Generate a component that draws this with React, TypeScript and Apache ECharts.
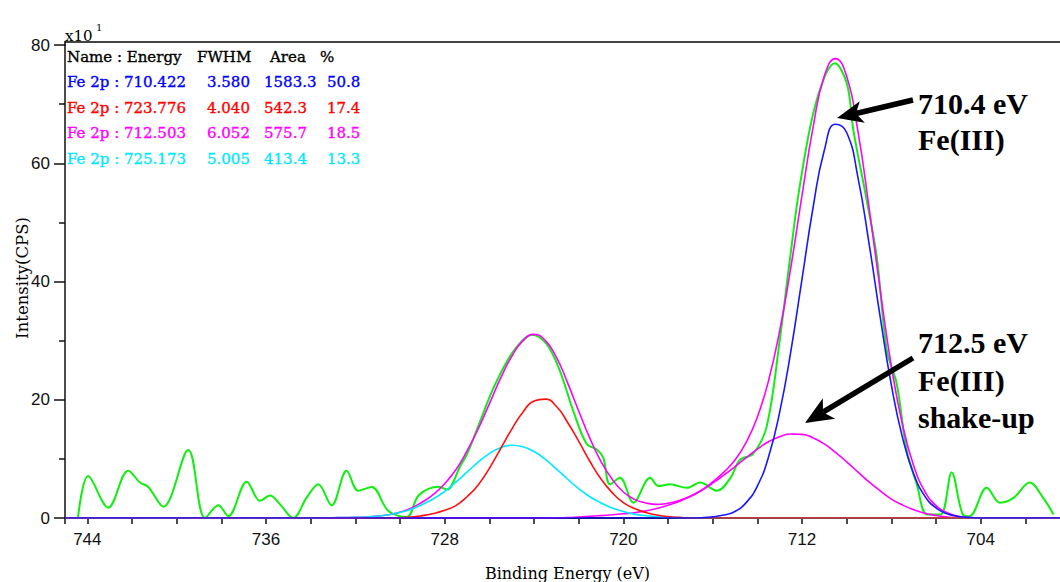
import React, { useEffect, useRef } from "react";
import * as echarts from "echarts";

// ---- fitted-curve sampling grid (binding energy, eV) ----
const fitEnergy = [
  734, 733.5, 733, 732.5, 732, 731.5, 731, 730.5, 730, 729.5, 729, 728.5, 728, 727.5, 727, 726.5,
  726, 725.5, 725, 724.5, 724, 723.5, 723, 722.5, 722, 721.5, 721, 720.5, 720, 719.5, 719, 718.5,
  718, 717.5, 717, 716.5, 716, 715.5, 715, 714.5, 714, 713.5, 713, 712.5, 712, 711.5, 711, 710.5,
  710, 709.5, 709, 708.5, 708, 707.5, 707, 706.5, 706, 705.5, 705, 704.5, 704, 703.5, 703, 702.5, 702,
];

// Fe 2p 723.776 (red)
const redPeak = [
  0, 0, 0, 0, 0, 0, 0, 0, 0.05, 0.15, 0.4, 0.75, 1.3, 2.1, 3.6, 5.6,
  8.4, 11.7, 15.0, 17.9, 19.8, 20.1, 18.9, 16.2, 13.0, 9.6, 6.6, 4.3, 2.6, 1.6, 0.95, 0.5,
  0.25, 0.1, 0, 0, 0, 0, 0, 0, 0, 0, 0, 0, 0, 0, 0, 0,
  0, 0, 0, 0, 0, 0, 0, 0, 0, 0, 0, 0, 0, 0, 0, 0, 0,
];

// Fe 2p 725.173 (cyan)
const cyanPeak = [
  0, 0.03, 0.05, 0.07, 0.1, 0.18, 0.33, 0.55, 0.95, 1.5, 2.3, 3.25, 4.5, 6.05, 7.75, 9.45,
  10.9, 11.9, 12.3, 12.05, 11.25, 9.95, 8.3, 6.6, 4.95, 3.6, 2.55, 1.7, 1.1, 0.65, 0.4, 0.22,
  0.12, 0.06, 0.03, 0, 0, 0, 0, 0, 0, 0, 0, 0, 0, 0, 0, 0,
  0, 0, 0, 0, 0, 0, 0, 0, 0, 0, 0, 0, 0, 0, 0, 0, 0,
];

// Fe 2p 712.503 shake-up (magenta)
const shakeUpPeak = [
  0, 0, 0, 0, 0, 0, 0, 0, 0, 0, 0, 0, 0, 0, 0, 0,
  0, 0, 0, 0, 0, 0, 0.03, 0.08, 0.17, 0.27, 0.4, 0.55, 0.72, 0.9, 1.2, 1.6,
  2.15, 2.8, 3.65, 4.65, 5.9, 7.25, 8.7, 10.2, 11.65, 12.9, 13.75, 14.2, 14.15, 13.55, 12.55, 11.1,
  9.5, 7.8, 6.1, 4.6, 3.2, 2.2, 1.4, 0.8, 0.42, 0.18, 0.05, 0, 0, 0, 0, 0, 0,
];

// Fe 2p 710.422 (blue)
const bluePeak = [
  0, 0, 0, 0, 0, 0, 0, 0, 0, 0, 0, 0, 0, 0, 0, 0,
  0, 0, 0, 0, 0, 0, 0, 0, 0, 0, 0, 0, 0, 0, 0, 0,
  0, 0, 0, 0.05, 0.2, 0.5, 1.1, 2.6, 5.4, 10.3, 17.9, 28.2, 40.4, 52.6, 62.2, 66.6,
  65.2, 57.7, 46.5, 34.0, 22.5, 13.6, 7.45, 3.7, 1.7, 0.7, 0.25, 0.08, 0, 0, 0, 0, 0,
];

// fit envelope (magenta)
const envelope = [
  0, 0.03, 0.05, 0.07, 0.1, 0.18, 0.33, 0.55, 1.0, 1.65, 2.7, 4.0, 5.8, 8.15, 11.35, 15.05,
  19.3, 23.6, 27.3, 29.95, 31.05, 30.05, 27.2, 22.9, 18.1, 13.5, 9.55, 6.55, 4.4, 3.15, 2.55, 2.3,
  2.5, 2.95, 3.7, 4.7, 6.1, 7.75, 9.8, 12.8, 17.05, 23.2, 31.65, 42.4, 54.55, 66.15, 74.75, 77.7,
  74.7, 65.5, 52.6, 38.6, 25.7, 15.8, 8.85, 4.5, 2.1, 0.9, 0.3, 0.08, 0, 0, 0, 0, 0,
];

// measured spectrum (green)
const rawEnergy = [
  744.42, 743.96, 743.06, 742.17, 741.64, 741.27, 740.6, 739.48, 738.73, 738.13, 737.69, 736.86,
  736.27, 735.82, 735.37, 734.78, 734.18, 733.66, 733.06, 732.39, 731.87, 731.27, 730.52, 729.7,
  729.15, 728.25, 727.9, 727.3, 727.0, 726.5, 725.8, 724.9, 724.06, 723.43, 722.84, 722.24,
  721.64, 721.19, 720.9, 720.6, 720.15, 719.55, 718.8, 718.43, 717.9, 717.16, 716.56, 715.8,
  715.2, 714.77, 714.2, 713.58, 713.0, 712.53, 712.08, 711.34, 710.52, 709.99, 709.7, 709.1,
  708.65, 708.2, 707.76, 707.31, 706.86, 706.4, 705.8, 705.3, 704.8, 704.5, 703.73, 703.13,
  702.53, 701.8, 701.2, 700.74,
];
const rawCounts = [
  0, 7.1, 1.75, 8.0, 6.0, 5.25, 1.9, 11.5, 0, 2.15, 0.3, 6.15,
  2.9, 3.8, 2.3, 0, 3.45, 5.7, 2.15, 8.0, 4.6, 5.25, 1.2, 0.15,
  3.9, 5.3, 4.8, 8.8, 10.8, 15.5, 22.1, 28.3, 31.0, 29.4, 24.9, 18.1,
  12.5, 11.6, 10.2, 5.7, 6.8, 2.6, 6.8, 5.4, 5.7, 5.1, 6.0, 4.6,
  6.8, 9.9, 10.8, 15.5, 30.0, 44.1, 56.6, 70.7, 76.9, 73.5, 65.6, 53.7,
  44.1, 28.3, 22.7, 11.4, 5.7, 0.6, 0.6, 7.7, 0.6, 0.3, 5.1, 2.6,
  3.4, 6.0, 3.4, 0.6,
];

// fit table
const peakNames = ["Fe 2p", "Fe 2p", "Fe 2p", "Fe 2p"];
const peakEnergies = ["710.422", "723.776", "712.503", "725.173"];
const peakFwhm = ["3.580", "4.040", "6.052", "5.005"];
const peakArea = ["1583.3", "542.3", "575.7", "413.4"];
const peakPercent = ["50.8", "17.4", "18.5", "13.3"];
const peakColors = ["#0000ff", "#ff0000", "#ff00ff", "#00e8ff"];

const xTickLabels = [744, 736, 728, 720, 712, 704];
const yTickLabels = [0, 20, 40, 60, 80];

function withBaseline(values: number[]): [number, number][] {
  const pts: [number, number][] = [[745, 0]];
  fitEnergy.forEach((e, i) => pts.push([e, values[i]]));
  pts.push([700, 0]);
  return pts;
}

function arrow(tail: [number, number], tip: [number, number], headLen: number, half: number) {
  const dx = tip[0] - tail[0];
  const dy = tip[1] - tail[1];
  const L = Math.hypot(dx, dy);
  const ux = dx / L, uy = dy / L;
  const nx = -uy, ny = ux;
  const bx = tip[0] - ux * headLen, by = tip[1] - uy * headLen;
  const kx = tip[0] - ux * headLen * 0.75, ky = tip[1] - uy * headLen * 0.75;
  return [
    { type: "line", shape: { x1: tail[0], y1: tail[1], x2: kx, y2: ky }, style: { stroke: "#000", lineWidth: 5.5 }, z: 100 },
    {
      type: "polygon",
      shape: { points: [[tip[0], tip[1]], [bx + nx * half, by + ny * half], [kx, ky], [bx - nx * half, by - ny * half]] },
      style: { fill: "#000" },
      z: 100,
    },
  ];
}

export default function App() {
  const ref = useRef<HTMLDivElement>(null);
  useEffect(() => {
    if (!ref.current) return;
    const chart = echarts.init(ref.current, undefined, { renderer: "svg" });

    const tf = (fill: string) => ({
      fontFamily: "DejaVu Serif",
      fontSize: 15,
      fill,
      stroke: fill,
      lineWidth: 0.35,
      verticalAlign: "middle",
    });
    const table: any[] = [
      { type: "text", x: 67, y: 57, style: { text: "Name : Energy", ...tf("#000") } },
      { type: "text", x: 197, y: 57, style: { text: "FWHM", ...tf("#000") } },
      { type: "text", x: 270, y: 57, style: { text: "Area", ...tf("#000") } },
      { type: "text", x: 320, y: 57, style: { text: "%", ...tf("#000") } },
    ];
    peakNames.forEach((n, i) => {
      const y = 82 + i * 25.5;
      const c = peakColors[i];
      table.push(
        { type: "text", x: 67, y, style: { text: `${n} : ${peakEnergies[i]}`, ...tf(c) } },
        { type: "text", x: 207, y, style: { text: peakFwhm[i], ...tf(c) } },
        { type: "text", x: 264, y, style: { text: peakArea[i], ...tf(c) } },
        { type: "text", x: 327, y, style: { text: peakPercent[i], ...tf(c) } }
      );
    });

    const annFont = { fontFamily: "Liberation Serif", fontSize: 30, fontWeight: "bold", fill: "#000", verticalAlign: "middle" };
    const annotations: any[] = [
      { type: "text", x: 918, y: 103, style: { text: "710.4 eV", ...annFont }, z: 100 },
      { type: "text", x: 918, y: 139, style: { text: "Fe(III)", ...annFont }, z: 100 },
      { type: "text", x: 918, y: 342, style: { text: "712.5 eV", ...annFont }, z: 100 },
      { type: "text", x: 918, y: 380, style: { text: "Fe(III)", ...annFont }, z: 100 },
      { type: "text", x: 918, y: 417, style: { text: "shake-up", ...annFont }, z: 100 },
      ...arrow([913, 100], [837, 118], 26, 11),
      ...arrow([913, 358], [805, 423], 28, 12),
    ];

    const frame: any[] = [
      { type: "line", shape: { x1: 65, y1: 42, x2: 1060, y2: 42 }, style: { stroke: "#444", lineWidth: 2 } },
      { type: "line", shape: { x1: 65, y1: 41, x2: 65, y2: 46 }, style: { stroke: "#000", lineWidth: 1.5 } },
      { type: "text", x: 65, y: 36, style: { text: "x10", fontFamily: "DejaVu Serif", fontSize: 15, fill: "#000", verticalAlign: "middle" } },
      { type: "text", x: 96, y: 27, style: { text: "1", fontFamily: "DejaVu Serif", fontSize: 10, fill: "#000", verticalAlign: "middle" } },
      {
        type: "text",
        x: 22,
        y: 278,
        rotation: Math.PI / 2,
        style: {
          text: "Intensity(CPS)",
          fontFamily: "DejaVu Serif",
          fontSize: 16.5,
          fill: "#000",
          align: "center",
          verticalAlign: "middle",
        },
      },
    ];

    const lineSeries = (name: string, data: [number, number][], color: string, width: number, z: number, smooth = 0.5) => ({
      name,
      type: "line",
      data,
      showSymbol: false,
      smooth,
      lineStyle: { color, width },
      z,
    });

    const option: any = {
      animation: false,
      backgroundColor: "#ffffff",
      grid: { left: 65, right: -10, top: 45, bottom: 64, containLabel: false, outerBoundsMode: "none" },
      xAxis: {
        type: "value",
        inverse: true,
        min: 700,
        max: 745,
        interval: 2,
        name: "Binding Energy (eV)",
        nameLocation: "middle",
        nameGap: 47,
        nameTextStyle: { fontFamily: "DejaVu Serif", fontSize: 16, color: "#000" },
        axisLine: { onZero: false, lineStyle: { color: "#111", width: 2 } },
        axisTick: { show: true, length: 6, lineStyle: { color: "#111", width: 1.5 } },
        axisLabel: {
          margin: 13,
          fontFamily: "Liberation Sans",
          fontSize: 17,
          color: "#111",
          formatter: (v: number) => (xTickLabels.includes(v) ? String(v) : ""),
        },
        splitLine: { show: false },
      },
      yAxis: {
        type: "value",
        min: 0,
        max: 80,
        interval: 20,
        axisLine: { show: true, onZero: false, lineStyle: { color: "#111", width: 1.5 } },
        axisTick: { show: true, length: 11, lineStyle: { color: "#111", width: 1.5 } },
        minorTick: { show: true, splitNumber: 2, length: 6, lineStyle: { color: "#111", width: 1.5 } },
        axisLabel: {
          margin: 15,
          fontFamily: "Liberation Sans",
          fontSize: 17,
          color: "#111",
          formatter: (v: number) => (yTickLabels.includes(v) ? String(v) : ""),
        },
        splitLine: { show: false },
      },
      series: [
        lineSeries("Raw", rawEnergy.map((e, i) => [e, rawCounts[i]]) as [number, number][], "#11ee11", 2, 2, 0.35),
        lineSeries("Envelope", withBaseline(envelope), "#ff00ff", 1.6, 3),
        lineSeries("Fe 2p 712.503", withBaseline(shakeUpPeak), "#ff00ff", 1.6, 4),
        lineSeries("Fe 2p 725.173", withBaseline(cyanPeak), "#00e8ff", 1.6, 5),
        lineSeries("Fe 2p 723.776", withBaseline(redPeak), "#ff1010", 1.6, 6),
        lineSeries("Fe 2p 710.422", withBaseline(bluePeak), "#1818ff", 1.6, 7),
      ],
      graphic: [...frame, ...table, ...annotations],
    };
    chart.setOption(option);
    return () => chart.dispose();
  }, []);

  return (
    <div
      ref={ref}
      style={{ position: "fixed", left: 0, top: 0, width: 1060, height: 582, background: "#fff" }}
    />
  );
}
